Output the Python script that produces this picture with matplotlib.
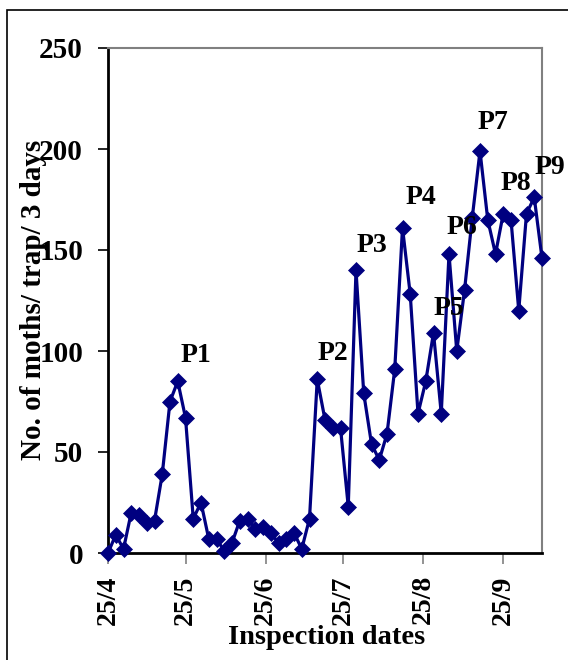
import pandas as pd
import matplotlib
matplotlib.use('Agg')
from matplotlib import pyplot as plt
from matplotlib.patches import Rectangle

# moths per trap, counted every 3 days from 25/4
moths = [0, 9, 2, 20, 19, 15, 16, 39, 75, 85,
         67, 17, 25, 7, 7, 1, 5, 16, 17, 12,
         13, 10, 5, 7, 10, 2, 17, 86, 66, 62,
         62, 23, 140, 79, 54, 46, 59, 91, 161, 128,
         69, 85, 109, 69, 148, 100, 130, 166, 199, 165,
         148, 168, 165, 120, 168, 176, 146]
start_date = '2009-04-25'
tick_dates = ['2009-04-25', '2009-05-25', '2009-06-25', '2009-07-25', '2009-08-25', '2009-09-25']
tick_labels = ['25/4', '25/5', '25/6', '25/7', '25/8', '25/9']

peak_names = ['P1', 'P2', 'P3', 'P4', 'P5', 'P6', 'P7', 'P8', 'P9']
peak_dates = ['2009-05-29', '2009-07-21', '2009-08-05', '2009-08-24', '2009-09-04',
              '2009-09-09', '2009-09-21', '2009-09-30', '2009-10-13']
peak_y = [98, 99, 152, 176, 121, 161, 213, 183, 191]

dates = pd.date_range(start_date, periods=len(moths), freq='3D')

plt.rcParams['font.family'] = ['Liberation Serif', 'DejaVu Serif']
plt.rcParams['font.weight'] = 'bold'

fig = plt.figure(figsize=(5.68, 6.6), dpi=100)
ax = fig.add_axes([108 / 568, 1 - 553 / 660, 434 / 568, 505 / 660])

ax.plot(dates, moths, color='#000080', lw=2.3, marker='D', ms=8,
        mec='#000080', mew=0.5, clip_on=False, zorder=3)

ax.set_xlim(dates[0], dates[-1])
ax.set_ylim(0, 250)
ax.set_yticks([0, 50, 100, 150, 200, 250])
ax.set_xticks(pd.to_datetime(tick_dates))
ax.set_xticklabels(tick_labels, rotation=90)

ax.tick_params(axis='y', direction='out', length=7, width=1.2, pad=11,
               labelsize=21, color='black')
ax.tick_params(axis='x', direction='out', length=8, width=1.2, pad=8,
               labelsize=20, color='#808080')
for lab in ax.get_xticklabels() + ax.get_yticklabels():
    lab.set_fontweight('bold')

ax.spines['left'].set_linewidth(2)
ax.spines['bottom'].set_linewidth(2)
ax.spines['top'].set_color('#808080')
ax.spines['right'].set_color('#808080')
ax.spines['top'].set_linewidth(1.5)
ax.spines['right'].set_linewidth(1.5)

for name, d, y in zip(peak_names, peak_dates, peak_y):
    ax.text(pd.Timestamp(d), y, name, ha='center', va='center', fontsize=20,
            fontweight='bold', clip_on=False)

fig.text(34 / 568, 1 - 300 / 660, 'No. of moths/ trap/ 3 days', rotation=90,
         ha='center', va='center', fontsize=21, fontweight='bold')
fig.text(327 / 568, 1 - 637 / 660, 'Inspection dates', ha='center', va='center',
         fontsize=20.5, fontweight='bold')

# outer frame round the chart
fig.patches.append(Rectangle((7 / 568, -0.1), 1.0, 1.1 - 10 / 660, transform=fig.transFigure,
                             fill=False, ec='black', lw=1.2))

plt.savefig('out.png', dpi=100)
